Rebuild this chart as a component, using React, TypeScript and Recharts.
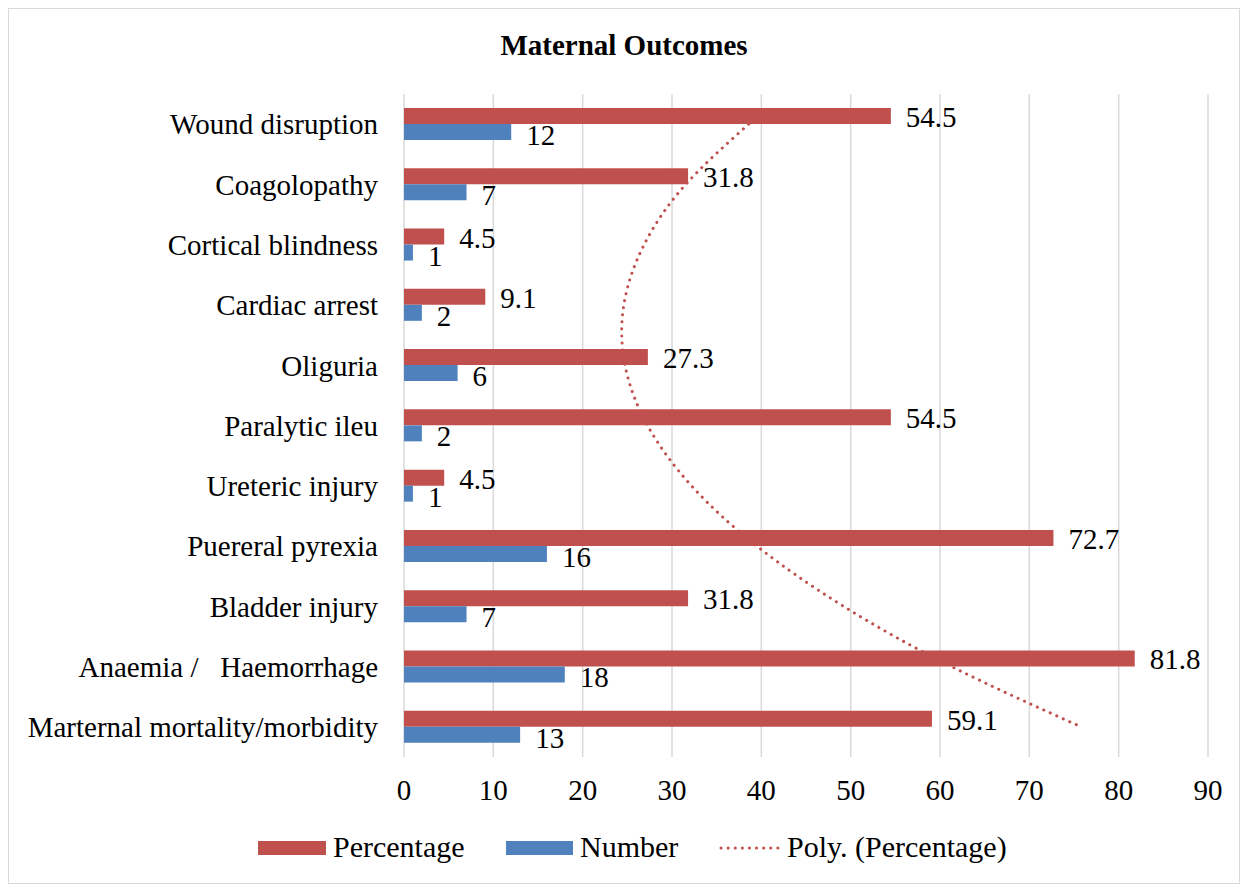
import { ComposedChart, Bar, Line, XAxis, YAxis, CartesianGrid, LabelList } from 'recharts';

// categories listed top to bottom, as drawn
const categories = [
  'Wound disruption',
  'Coagolopathy',
  'Cortical blindness',
  'Cardiac arrest',
  'Oliguria',
  'Paralytic ileu',
  'Ureteric injury',
  'Puereral pyrexia',
  'Bladder injury',
  'Anaemia /\u00a0\u00a0\u00a0Haemorrhage',
  'Marternal mortality/morbidity',
];
const percentage = [54.5, 31.8, 4.5, 9.1, 27.3, 54.5, 4.5, 72.7, 31.8, 81.8, 59.1];
const number = [12, 7, 1, 2, 6, 2, 1, 16, 7, 18, 13];
const xTicks = [0, 10, 20, 30, 40, 50, 60, 70, 80, 90];

const RED = '#C0504D';
const BLUE = '#4F81BD';
const FONT = '"Liberation Serif", "Times New Roman", serif';
const FS = 29;

// 2nd order least-squares trend over percentage, x = 1..n from the bottom category (as Excel does)
function polyTrend(ys: number[]) {
  const n = ys.length;
  const xs = ys.map((_, i) => n - i);
  let s0 = 0, s1 = 0, s2 = 0, s3 = 0, s4 = 0, t0 = 0, t1 = 0, t2 = 0;
  xs.forEach((x, i) => {
    const y = ys[i];
    s0 += 1; s1 += x; s2 += x * x; s3 += x ** 3; s4 += x ** 4;
    t0 += y; t1 += x * y; t2 += x * x * y;
  });
  const m = [
    [s0, s1, s2, t0],
    [s1, s2, s3, t1],
    [s2, s3, s4, t2],
  ];
  for (let c = 0; c < 3; c++) {
    for (let r = c + 1; r < 3; r++) {
      const f = m[r][c] / m[c][c];
      for (let k = c; k < 4; k++) m[r][k] -= f * m[c][k];
    }
  }
  const coef = [0, 0, 0];
  for (let r = 2; r >= 0; r--) {
    let s = m[r][3];
    for (let k = r + 1; k < 3; k++) s -= m[r][k] * coef[k];
    coef[r] = s / m[r][r];
  }
  return xs.map((x) => coef[0] + coef[1] * x + coef[2] * x * x);
}

const trend = polyTrend(percentage);

const data = categories.map((name, i) => ({
  name,
  percentage: percentage[i],
  number: number[i],
  trend: trend[i],
}));

const makeLabel = (dy: number) => (props: any) => {
  const { x, y, width, height, value } = props;
  return (
    <text
      x={Number(x) + Number(width) + 15}
      y={Number(y) + Number(height) / 2 + dy}
      dominantBaseline="central"
      fontSize={FS}
      fontFamily={FONT}
      fill="#000"
    >
      {value}
    </text>
  );
};

export default function App() {
  return (
    <div style={{ position: 'relative', width: 1232, height: 876, background: '#fff', fontFamily: FONT }}>
      <div
        style={{
          position: 'absolute',
          left: 0,
          top: 0,
          width: 1232,
          height: 876,
          border: '1px solid #D9D9D9',
          boxSizing: 'border-box',
          pointerEvents: 'none',
        }}
      />
      <div
        style={{
          position: 'absolute',
          top: 21,
          left: 0,
          width: 1232,
          textAlign: 'center',
          fontWeight: 'bold',
          fontSize: FS,
          color: '#000',
        }}
      >
        Maternal Outcomes
      </div>
      <ComposedChart
        width={1232}
        height={876}
        data={data}
        layout="vertical"
        margin={{ top: 86, right: 32, bottom: 87, left: 0 }}
        barSize={16}
        barGap={0}
        style={{ fontFamily: FONT }}
      >
        <CartesianGrid horizontal={false} stroke="#D9D9D9" strokeWidth={1.5} />
        <XAxis
          type="number"
          domain={[0, 90]}
          ticks={xTicks}
          axisLine={false}
          tickLine={false}
          tickMargin={16}
          height={40}
          tick={{ fontSize: FS, fill: '#000', fontFamily: FONT }}
        />
        <YAxis
          type="category"
          dataKey="name"
          width={396}
          axisLine={false}
          tickLine={false}
          tickMargin={20}
          tick={{ fontSize: FS, fill: '#000', fontFamily: FONT }}
        />
        <Bar dataKey="percentage" fill={RED} isAnimationActive={false}>
          <LabelList dataKey="percentage" content={makeLabel(1)} />
        </Bar>
        <Bar dataKey="number" fill={BLUE} isAnimationActive={false}>
          <LabelList dataKey="number" content={makeLabel(3)} />
        </Bar>
        <Line
          dataKey="trend"
          type="natural"
          stroke={RED}
          strokeWidth={3}
          strokeDasharray="0.1 7"
          strokeLinecap="round"
          dot={false}
          activeDot={false}
          isAnimationActive={false}
        />
      </ComposedChart>
      <div style={{ position: 'absolute', top: 822, left: 0, width: 1232, height: 40, fontSize: 30, color: '#000' }}>
        <div style={{ position: 'absolute', left: 250, top: 11, width: 68, height: 14, background: RED }} />
        <div style={{ position: 'absolute', left: 325, top: 0 }}>Percentage</div>
        <div style={{ position: 'absolute', left: 498, top: 11, width: 67, height: 14, background: BLUE }} />
        <div style={{ position: 'absolute', left: 572, top: 0 }}>Number</div>
        <svg style={{ position: 'absolute', left: 710, top: 10 }} width={62} height={16}>
          <line x1={3} y1={8} x2={60} y2={8} stroke={RED} strokeWidth={3} strokeDasharray="0.1 7" strokeLinecap="round" />
        </svg>
        <div style={{ position: 'absolute', left: 779, top: 0 }}>Poly. (Percentage)</div>
      </div>
    </div>
  );
}
